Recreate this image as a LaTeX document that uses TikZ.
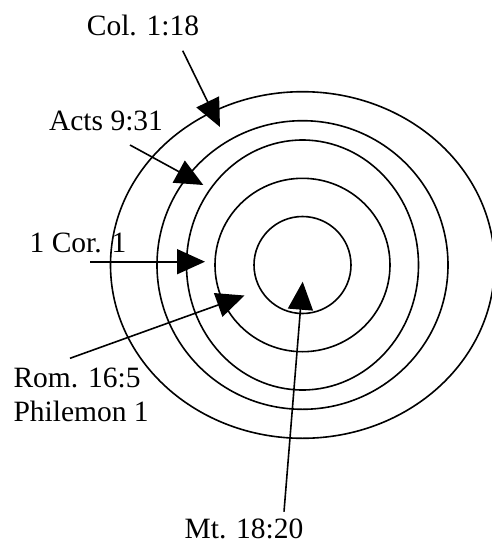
\documentclass[tikz,border=0pt]{standalone}
\usepackage{fontspec}
\setmainfont{Liberation Serif}
\usetikzlibrary{arrows.meta}

\begin{document}
\begin{tikzpicture}[x=1pt,y=1pt,line width=1.6pt,
  ref/.style={inner sep=0pt,anchor=base,font=\fontsize{29.5}{34}\selectfont},
  pointer/.style={-{Triangle[length=28pt,width=25pt]}}]
\useasboundingbox (0,0) rectangle (491,-544);

% Rings (church circles)
\coordinate (C) at (302.5,-265);
\draw (C) ellipse [x radius=192,y radius=173.3];
\draw (C) ellipse [x radius=145.5,y radius=144.3];
\draw (C) ellipse [x radius=116,y radius=125];
\draw (C) ellipse [x radius=87.5,y radius=86.7];
\draw (C) circle [radius=48.5];

% Labels (references)
\node[ref] (col) at (143,-35) {Col. 1:18};
\node[ref] (acts) at (106,-130.7) {Acts 9:31};
\node[ref] (cor) at (78,-252.3) {1 Cor. 1};
\node[ref,anchor=base west] (rom) at (12.7,-387.3) {Rom. 16:5};
\node[ref,anchor=base west] (phm) at (12.7,-421.7) {Philemon 1};
\node[ref] (mt) at (244,-538.5) {Mt. 18:20};

% Arrow ends
\coordinate (colS) at (182.7,-50.7);  \coordinate (colT) at (220,-127);
\coordinate (actsS) at (130,-145);    \coordinate (actsT) at (203.3,-185);
\coordinate (corS) at (90,-261.7);    \coordinate (corT) at (205,-261.7);
\coordinate (romS) at (70,-358.3);    \coordinate (romT) at (244.5,-295.5);
\coordinate (mtS) at (284,-511.7);    \coordinate (mtT) at (302.7,-281.7);

% Arrows
\draw[pointer] (colS) -- (colT);
\draw[pointer] (actsS) -- (actsT);
\draw[pointer] (corS) -- (corT);
\draw[pointer] (romS) -- (romT);
\draw[pointer] (mtS) -- (mtT);
\end{tikzpicture}
\end{document}
